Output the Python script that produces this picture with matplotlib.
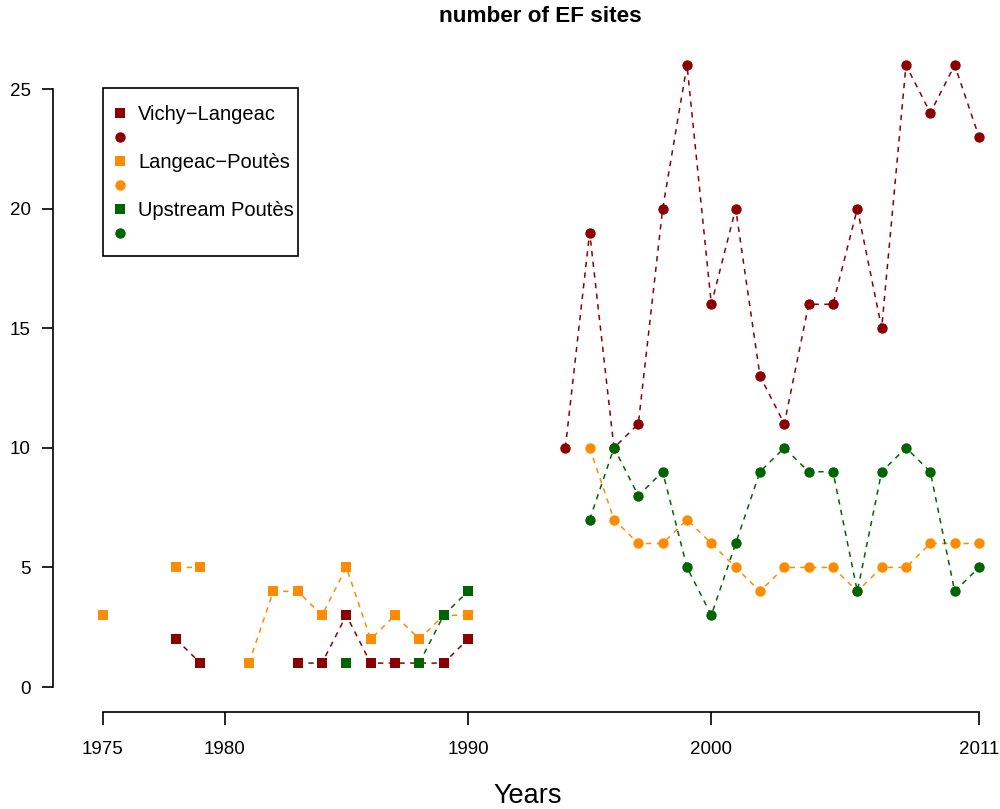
import numpy as np
import matplotlib.pyplot as plt
from matplotlib.lines import Line2D
from matplotlib.patches import Rectangle

plt.rcParams['font.family'] = ['Liberation Sans', 'DejaVu Sans']

nan = np.nan

# early survey years (squares) and recent survey years (circles)
early_years = [1975, 1976, 1977, 1978, 1979, 1980, 1981, 1982,
               1983, 1984, 1985, 1986, 1987, 1988, 1989, 1990]
late_years = [1994, 1995, 1996, 1997, 1998, 1999, 2000, 2001, 2002,
              2003, 2004, 2005, 2006, 2007, 2008, 2009, 2010, 2011]

vichy_early = [nan, nan, nan, 2, 1, nan, nan, nan, 1, 1, 3, 1, 1, 1, 1, 2]
langeac_early = [3, nan, nan, 5, 5, nan, 1, 4, 4, 3, 5, 2, 3, 2, 3, 3]
upstream_early = [nan, nan, nan, nan, nan, nan, nan, nan, nan, nan, 1, nan, nan, 1, 3, 4]

vichy_late = [10, 19, 10, 11, 20, 26, 16, 20, 13, 11, 16, 16, 20, 15, 26, 24, 26, 23]
langeac_late = [nan, 10, 7, 6, 6, 7, 6, 5, 4, 5, 5, 5, 4, 5, 5, 6, 6, 6]
upstream_late = [nan, 7, 10, 8, 9, 5, 3, 6, 9, 10, 9, 9, 4, 9, 10, 9, 4, 5]

sections = ["Vichy\u2212Langeac", "Langeac\u2212Poutès", "Upstream Poutès"]
colors = ["#8B0000", "#FF8C00", "#006400"]

x_ticks = [1975, 1980, 1990, 2000, 2011]
y_ticks = [0, 5, 10, 15, 20, 25]

W, H = 1000, 809
fig = plt.figure(figsize=(W / 100, H / 100), dpi=100)
# axes box in pixel terms
left, right, top, bottom = 60, 995, 40, 700
ax = fig.add_axes([left / W, 1 - bottom / H, (right - left) / W, (bottom - top) / H])

px_per_year = 876 / 36
px_per_unit = 598 / 25
ax.set_xlim(1975 + (left - 103) / px_per_year, 1975 + (right - 103) / px_per_year)
ax.set_ylim((687 - bottom) / px_per_unit, (687 - top) / px_per_unit)

dash = (0, (3.5, 3.5))
early = [vichy_early, langeac_early, upstream_early]
late = [vichy_late, langeac_late, upstream_late]
for vals, col in zip(early, colors):
    ax.plot(early_years, vals, color=col, linestyle=dash, linewidth=1.1,
            marker="s", markersize=7, markeredgewidth=0)
for vals, col in zip(late, colors):
    ax.plot(late_years, vals, color=col, linestyle=dash, linewidth=1.1,
            marker="o", markersize=7.5, markeredgewidth=0)

# R-style detached axes
for side in ["top", "right"]:
    ax.spines[side].set_visible(False)
ax.spines["left"].set_position(("outward", 5))
ax.spines["bottom"].set_position(("outward", 8.5))
ax.spines["left"].set_bounds(0, 25)
ax.spines["bottom"].set_bounds(1975, 2011)
for side in ["left", "bottom"]:
    ax.spines[side].set_linewidth(1.2)

ax.set_xticks(x_ticks)
ax.set_xticklabels([str(t) for t in x_ticks])
ax.set_yticks(y_ticks)
ax.tick_params(axis="x", length=9, width=1.2, pad=12, labelsize=13.5)
ax.tick_params(axis="y", length=8, width=1.2, pad=8, labelsize=13.5)

ax.set_xlabel("Years", fontsize=19.5, labelpad=18)
fig.text(540 / W, 1 - 17 / H, "number of EF sites", ha="center", va="center",
         fontsize=16.2, fontweight="bold")

handles, labels = [], []
for name, col in zip(sections, colors):
    handles.append(Line2D([], [], color=col, linestyle="none", marker="s",
                          markersize=7, markeredgewidth=0))
    labels.append(name)
    handles.append(Line2D([], [], color=col, linestyle="none", marker="o",
                          markersize=7.5, markeredgewidth=0))
    labels.append("")
ax.legend(handles, labels, loc="upper left",
          bbox_to_anchor=(103 / W, 1 - 94 / H), bbox_transform=fig.transFigure,
          fontsize=14.5, frameon=False,
          handlelength=0.6, handletextpad=0.6, labelspacing=0.25,
          borderpad=0.55, borderaxespad=0)
# legend box drawn separately so its padding can be uneven
fig.patches.append(Rectangle((103 / W, 1 - 256 / H), 195 / W, 168 / H,
                             transform=fig.transFigure, fill=False,
                             edgecolor="black", linewidth=1.2))

fig.savefig("out.png", dpi=100)
